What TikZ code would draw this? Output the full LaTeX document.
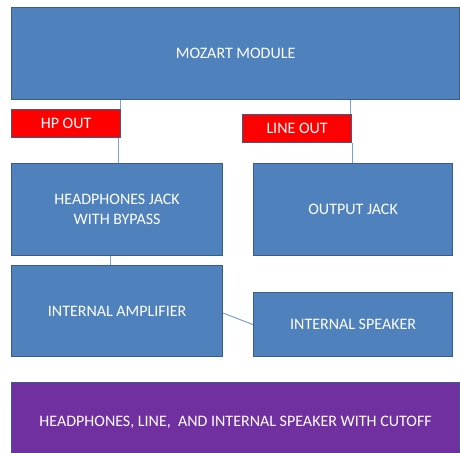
\documentclass[tikz,border=0pt]{standalone}
\usepackage{fontspec}
\setmainfont{Carlito}
\definecolor{boxblue}{HTML}{4F81BD}
\definecolor{boxline}{HTML}{385D8A}
\definecolor{wireblue}{HTML}{7BA0CD}
\definecolor{cutoffpurple}{HTML}{7030A0}
\begin{document}
\begin{tikzpicture}[
  x=1pt, y=-1pt,
  block/.style={draw=boxline, line width=1.2pt, fill=boxblue, text=white, rectangle,
    anchor=north west, inner sep=0pt, align=center, font=\fontsize{16}{20}\selectfont},
  port/.style={block, fill=red},
  cutoff/.style={block, fill=cutoffpurple},
  wire/.style={draw=wireblue, line width=1pt}
  ]
  \useasboundingbox (0,0) rectangle (460,452);
  \node[block, minimum width=448pt, minimum height=92pt] (mozart) at (11,7) {MOZART MODULE};
  \node[port, minimum width=109pt, minimum height=28pt] (hpout) at (11,109) {HP OUT};
  \node[port, minimum width=109pt, minimum height=28pt] (lineout) at (242,114) {LINE OUT};
  \node[block, minimum width=211pt, minimum height=92pt] (hpjack) at (11,163) {HEADPHONES JACK\\WITH BYPASS};
  \node[block, minimum width=199pt, minimum height=92pt] (outjack) at (253,163) {OUTPUT JACK};
  \node[block, minimum width=211pt, minimum height=91pt] (amp) at (11,265) {INTERNAL AMPLIFIER};
  \node[block, minimum width=199pt, minimum height=64pt] (speaker) at (253,292) {INTERNAL SPEAKER};
  \node[cutoff, minimum width=448pt, minimum height=80pt] (cutoff) at (11,382) {HEADPHONES, LINE,~ AND INTERNAL SPEAKER WITH CUTOFF};
  % connections
  \draw[wire] ([xshift=-1pt]hpout.north east |- mozart.south) -- ([xshift=-1pt]hpout.north east);
  \draw[wire] ([xshift=-3pt]hpout.south east) -- ([xshift=-3pt]hpout.south east |- hpjack.north);
  \draw[wire] ([xshift=-2pt]lineout.north east |- mozart.south) -- ([xshift=-2pt]lineout.north east);
  \draw[wire] (lineout.south east) -- (lineout.south east |- outjack.north);
  \draw[wire] ([xshift=-7pt]hpjack.south) -- ([xshift=-7pt]amp.north);
  \draw[wire] ([yshift=-2pt]amp.east) -- (speaker.west);
\end{tikzpicture}
\end{document}
